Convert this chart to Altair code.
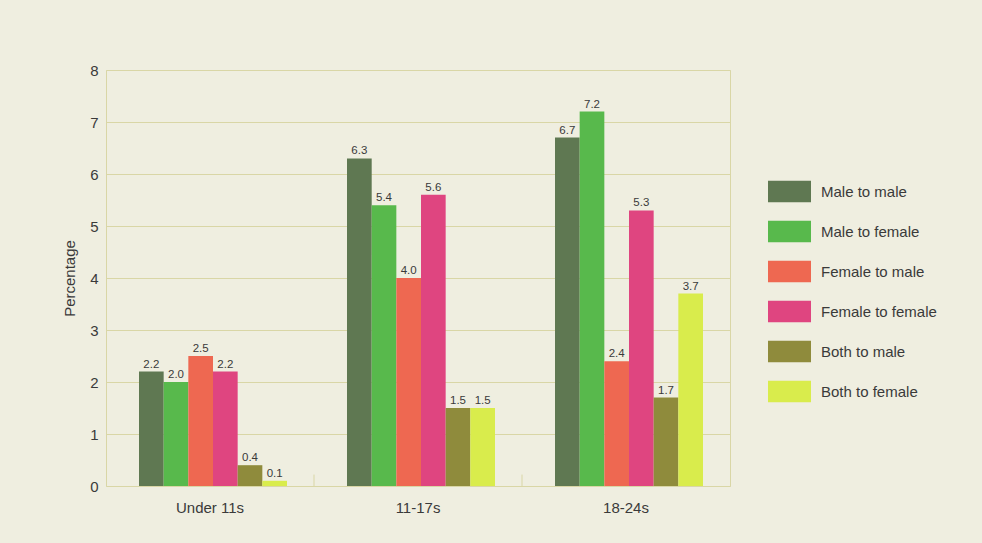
import altair as alt
import pandas as pd

categories = ["Under 11s", "11-17s", "18-24s"]
series = ["Male to male", "Male to female", "Female to male",
          "Female to female", "Both to male", "Both to female"]
colors = ["#5f7852", "#58b94c", "#ee6851", "#df4580", "#8f8b3c", "#d9ec4c"]

male_to_male = [2.2, 6.3, 6.7]
male_to_female = [2.0, 5.4, 7.2]
female_to_male = [2.5, 4.0, 2.4]
female_to_female = [2.2, 5.6, 5.3]
both_to_male = [0.4, 1.5, 1.7]
both_to_female = [0.1, 1.5, 3.7]

values = [male_to_male, male_to_female, female_to_male,
          female_to_female, both_to_male, both_to_female]

rows = []
for s, vals in zip(series, values):
    for c, v in zip(categories, vals):
        rows.append({"group": c, "series": s, "value": v, "label": f"{v:.1f}"})
df = pd.DataFrame(rows)

ticks_df = pd.DataFrame({"group": categories[1:], "y0": [0, 0], "y1": [0.22, 0.22]})

FONT = "Liberation Sans"
TXT = "#3a3a3a"
GRID = "#d9d6a6"

x_enc = alt.X("group:N", sort=categories,
              scale=alt.Scale(paddingInner=0, paddingOuter=0),
              axis=alt.Axis(title=None, labelAngle=0, labelFontSize=15,
                            labelColor=TXT, labelFont=FONT, labelPadding=14,
                            ticks=False, domain=False, grid=False))

bars = alt.Chart(df).mark_bar().encode(
    x=x_enc,
    xOffset=alt.XOffset("series:N", sort=series,
                        scale=alt.Scale(range=[33, 181], paddingInner=0, paddingOuter=0)),
    y=alt.Y("value:Q", scale=alt.Scale(domain=[0, 8]),
            axis=alt.Axis(title="Percentage", values=list(range(9)),
                          titleFontSize=15, titleFont=FONT, titleColor=TXT,
                          titleFontWeight="normal", titlePadding=12,
                          labelFontSize=15, labelFont=FONT, labelColor=TXT,
                          labelPadding=8, ticks=False, domain=False,
                          gridColor=GRID, gridWidth=1)),
    color=alt.Color("series:N", sort=series,
                    scale=alt.Scale(domain=series, range=colors),
                    legend=alt.Legend(title=None, orient="none",
                                      legendX=662, legendY=100,
                                      symbolType="M-1,-0.5H1V0.5H-1Z",
                                      symbolSize=1849, symbolStrokeWidth=0,
                                      symbolOpacity=1,
                                      labelFontSize=15, labelFont=FONT,
                                      labelColor=TXT, labelOffset=10,
                                      rowPadding=7, padding=0)),
)

labels = alt.Chart(df).mark_text(dy=-7, fontSize=11.5, font=FONT, color=TXT).encode(
    x=alt.X("group:N", sort=categories),
    xOffset=alt.XOffset("series:N", sort=series),
    y=alt.Y("value:Q"),
    text="label:N",
)

ticks = alt.Chart(ticks_df).mark_rule(color=GRID, strokeWidth=1).encode(
    x=alt.X("group:N", sort=categories, bandPosition=0),
    y=alt.Y("y0:Q"),
    y2="y1:Q",
)

chart = alt.layer(bars, labels, ticks).properties(
    width=624, height=416,
    autosize=alt.AutoSizeParams(type="none"),
    padding={"left": 106, "top": 70, "right": 252, "bottom": 57},
    background="#efeee0",
).configure_view(stroke=GRID, strokeWidth=1)

chart.save("out.html", embed_options={"renderer": "svg", "actions": False})
